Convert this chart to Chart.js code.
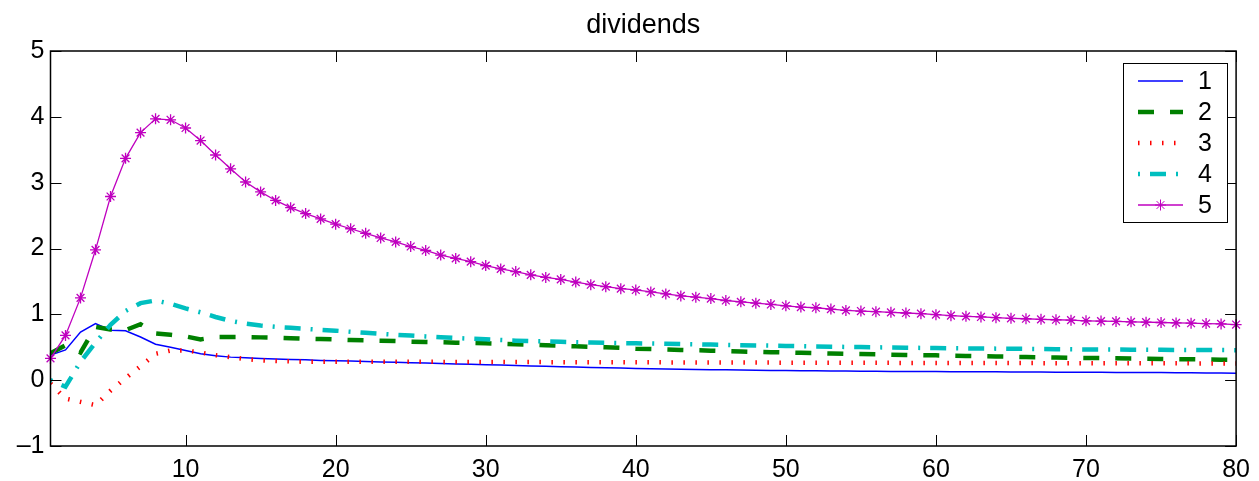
<!DOCTYPE html>
<html>
<head>
<meta charset="utf-8">
<title>dividends</title>
<script src="https://cdn.jsdelivr.net/npm/chart.js@4/dist/chart.umd.min.js"></script>
<style>
  html, body { margin: 0; padding: 0; background: #fff; }
  #wrap { width: 1259px; height: 481px; }
</style>
</head>
<body>
<div id="wrap"><canvas id="chart"></canvas></div>
<script>
// horizon steps 1..80
var steps = Array.from({ length: 80 }, function (_, i) { return i + 1; });

var series1 = [0.38, 0.46, 0.73, 0.86, 0.76, 0.75, 0.655, 0.545, 0.50, 0.45,
  0.40, 0.37, 0.35, 0.34, 0.33, 0.32, 0.315, 0.31, 0.30, 0.295,
  0.29, 0.283, 0.277, 0.271, 0.265, 0.259, 0.253, 0.247, 0.241, 0.235,
  0.229, 0.223, 0.217, 0.211, 0.205, 0.199, 0.194, 0.189, 0.184, 0.179,
  0.175, 0.171, 0.167, 0.163, 0.160, 0.157, 0.154, 0.151, 0.148, 0.146,
  0.144, 0.142, 0.140, 0.138, 0.136, 0.134, 0.133, 0.132, 0.131, 0.130,
  0.129, 0.128, 0.127, 0.126, 0.125, 0.124, 0.123, 0.122, 0.121, 0.120,
  0.119, 0.118, 0.117, 0.116, 0.115, 0.113, 0.111, 0.109, 0.107, 0.105];

var series2 = [0.41, 0.53, 0.42, 0.81, 0.77, 0.76, 0.85, 0.71, 0.69, 0.665,
  0.62, 0.655, 0.655, 0.655, 0.65, 0.645, 0.637, 0.63, 0.625, 0.618,
  0.61, 0.605, 0.60, 0.593, 0.585, 0.58, 0.575, 0.57, 0.565, 0.56,
  0.553, 0.545, 0.538, 0.53, 0.522, 0.515, 0.507, 0.50, 0.49, 0.478,
  0.472, 0.466, 0.46, 0.454, 0.448, 0.442, 0.436, 0.43, 0.425, 0.42,
  0.415, 0.41, 0.405, 0.40, 0.396, 0.392, 0.388, 0.384, 0.38, 0.377,
  0.372, 0.368, 0.364, 0.36, 0.356, 0.352, 0.348, 0.344, 0.34, 0.338,
  0.335, 0.332, 0.329, 0.326, 0.323, 0.32, 0.317, 0.314, 0.311, 0.308];

var series3 = [-0.05, -0.28, -0.33, -0.38, -0.16, 0.03, 0.21, 0.40, 0.45, 0.45,
  0.42, 0.38, 0.35, 0.32, 0.30, 0.29, 0.285, 0.28, 0.28, 0.28,
  0.28, 0.28, 0.28, 0.279, 0.279, 0.278, 0.278, 0.277, 0.277, 0.276,
  0.276, 0.275, 0.275, 0.274, 0.274, 0.273, 0.273, 0.272, 0.272, 0.271,
  0.271, 0.27, 0.27, 0.269, 0.269, 0.268, 0.268, 0.267, 0.267, 0.266,
  0.266, 0.265, 0.265, 0.264, 0.264, 0.263, 0.263, 0.262, 0.262, 0.261,
  0.261, 0.26, 0.26, 0.26, 0.259, 0.259, 0.259, 0.258, 0.258, 0.258,
  0.257, 0.257, 0.257, 0.256, 0.256, 0.256, 0.255, 0.255, 0.255, 0.255];

var series4 = [0.0, -0.1, 0.28, 0.57, 0.84, 1.05, 1.17, 1.21, 1.16, 1.09,
  1.03, 0.96, 0.90, 0.86, 0.83, 0.81, 0.795, 0.78, 0.765, 0.752,
  0.735, 0.72, 0.705, 0.69, 0.678, 0.665, 0.652, 0.64, 0.63, 0.62,
  0.61, 0.60, 0.594, 0.588, 0.582, 0.576, 0.571, 0.567, 0.563, 0.56,
  0.556, 0.552, 0.548, 0.544, 0.54, 0.536, 0.532, 0.528, 0.524, 0.52,
  0.516, 0.512, 0.508, 0.505, 0.502, 0.499, 0.496, 0.493, 0.49, 0.488,
  0.485, 0.483, 0.481, 0.479, 0.477, 0.475, 0.473, 0.471, 0.469, 0.467,
  0.466, 0.465, 0.463, 0.462, 0.461, 0.46, 0.459, 0.458, 0.457, 0.456];

var series5 = [0.33, 0.68, 1.25, 1.98, 2.79, 3.37, 3.76, 3.97, 3.955, 3.83,
  3.64, 3.42, 3.21, 3.01, 2.86, 2.73, 2.62, 2.53, 2.45, 2.37,
  2.30, 2.23, 2.16, 2.10, 2.03, 1.97, 1.90, 1.85, 1.80, 1.74,
  1.69, 1.65, 1.60, 1.56, 1.53, 1.49, 1.45, 1.42, 1.39, 1.37,
  1.34, 1.31, 1.28, 1.26, 1.24, 1.21, 1.19, 1.17, 1.15, 1.13,
  1.11, 1.10, 1.08, 1.06, 1.05, 1.04, 1.03, 1.02, 1.01, 0.995,
  0.98, 0.97, 0.96, 0.95, 0.94, 0.933, 0.924, 0.918, 0.912, 0.902,
  0.897, 0.892, 0.886, 0.881, 0.876, 0.87, 0.865, 0.86, 0.855, 0.845];

var seriesNames = ['1', '2', '3', '4', '5'];
var xTicks = [10, 20, 30, 40, 50, 60, 70, 80];
var yTicks = [-1, 0, 1, 2, 3, 4, 5];
var chartTitle = 'dividends';

var FONT = '"Liberation Sans", Arial, Helvetica, sans-serif';

function points(values) {
  return steps.map(function (x, i) { return { x: x, y: values[i] }; });
}

var styles = [
  { color: '#0000ff', width: 1.5, dash: [] },
  { color: '#008000', width: 4.5, dash: [16, 16] },
  { color: '#ff0000', width: 4.5, dash: [1.5, 10.5] },
  { color: '#00bfbf', width: 4.5, dash: [2, 10, 16, 10] },
  { color: '#bf00bf', width: 1.3, dash: [], star: true }
];

var allSeries = [series1, series2, series3, series4, series5];

var datasets = allSeries.map(function (vals, i) {
  var s = styles[i];
  return {
    label: seriesNames[i],
    data: points(vals),
    borderColor: s.color,
    backgroundColor: s.color,
    borderWidth: s.width,
    borderDash: s.dash,
    borderCapStyle: 'butt',
    tension: 0,
    fill: false,
    pointStyle: s.star ? 'star' : 'circle',
    pointRadius: s.star ? 5.5 : 0,
    pointBorderWidth: 1.3,
    pointBorderColor: s.color,
    clip: s.star ? false : undefined,
    order: 4 - i
  };
});

// matlab-ish axes box with inward ticks, title centred over the plot
var axesBox = {
  id: 'axesBox',
  afterDatasetsDraw: function (chart) {
    var ctx = chart.ctx, a = chart.chartArea;
    var xs = chart.scales.x, ys = chart.scales.y;
    var tl = 11;
    ctx.save();
    ctx.strokeStyle = '#000';
    ctx.lineWidth = 1.5;
    ctx.strokeRect(a.left, a.top, a.right - a.left, a.bottom - a.top);
    ctx.lineWidth = 1;
    ctx.beginPath();
    xTicks.forEach(function (v) {
      var px = Math.round(xs.getPixelForValue(v)) + 0.5;
      ctx.moveTo(px, a.bottom); ctx.lineTo(px, a.bottom - tl);
      ctx.moveTo(px, a.top); ctx.lineTo(px, a.top + tl);
    });
    yTicks.forEach(function (v) {
      var py = Math.round(ys.getPixelForValue(v)) + 0.5;
      ctx.moveTo(a.left, py); ctx.lineTo(a.left + tl, py);
      ctx.moveTo(a.right, py); ctx.lineTo(a.right - tl, py);
    });
    ctx.stroke();

    ctx.fillStyle = '#000';
    ctx.font = '27px ' + FONT;
    ctx.textAlign = 'center';
    ctx.textBaseline = 'middle';
    ctx.fillText(chartTitle, (a.left + a.right) / 2, 26);
    ctx.restore();
  }
};

// legend box in the upper right corner
var boxLegend = {
  id: 'boxLegend',
  afterDraw: function (chart) {
    var ctx = chart.ctx;
    var left = 1123.5, top = 63.5, w = 104, h = 159;
    ctx.save();
    ctx.fillStyle = '#fff';
    ctx.fillRect(left, top, w, h);
    ctx.strokeStyle = '#000';
    ctx.lineWidth = 1;
    ctx.strokeRect(left, top, w, h);
    chart.data.datasets.forEach(function (ds, i) {
      var y = 81 + i * 31;
      ctx.save();
      ctx.strokeStyle = ds.borderColor;
      ctx.lineWidth = ds.borderWidth;
      ctx.setLineDash(ds.borderDash);
      ctx.lineCap = 'butt';
      ctx.beginPath();
      ctx.moveTo(1138, y);
      ctx.lineTo(1183, y);
      ctx.stroke();
      ctx.restore();
      if (ds.pointRadius > 0) {
        ctx.strokeStyle = ds.borderColor;
        ctx.fillStyle = ds.borderColor;
        Chart.helpers.drawPoint(ctx, {
          pointStyle: ds.pointStyle, radius: ds.pointRadius,
          borderWidth: ds.pointBorderWidth, rotation: 0
        }, 1160.5, y);
      }
      ctx.fillStyle = '#000';
      ctx.font = '25px ' + FONT;
      ctx.textAlign = 'left';
      ctx.textBaseline = 'middle';
      ctx.fillText(ds.label, 1198, y + 1);
    });
    ctx.restore();
  }
};

new Chart(document.getElementById('chart').getContext('2d'), {
  type: 'line',
  data: { datasets: datasets },
  options: {
    responsive: true,
    maintainAspectRatio: false,
    animation: false,
    devicePixelRatio: 1,
    layout: { padding: { left: 0, right: 18.5, top: 51, bottom: 0 } },
    plugins: {
      legend: { display: false },
      tooltip: { enabled: false },
      title: { display: false }
    },
    scales: {
      x: {
        type: 'linear',
        min: 1,
        max: 80,
        afterBuildTicks: function (s) { s.ticks = xTicks.map(function (v) { return { value: v }; }); },
        afterFit: function (s) { s.height = 35; },
        grid: { display: false, drawTicks: false },
        border: { display: false },
        ticks: {
          color: '#000', padding: 9, maxRotation: 0, autoSkip: false,
          font: { family: FONT, size: 25 }
        }
      },
      y: {
        min: -1,
        max: 5,
        afterBuildTicks: function (s) { s.ticks = yTicks.map(function (v) { return { value: v }; }); },
        afterFit: function (s) { s.width = 50.5; },
        grid: { display: false, drawTicks: false },
        border: { display: false },
        ticks: {
          color: '#000', padding: 6, autoSkip: false,
          font: { family: FONT, size: 25 },
          callback: function (v) { return v < 0 ? '\u2013' + Math.abs(v) : String(v); }
        }
      }
    }
  },
  plugins: [axesBox, boxLegend]
});
</script>
</body>
</html>
